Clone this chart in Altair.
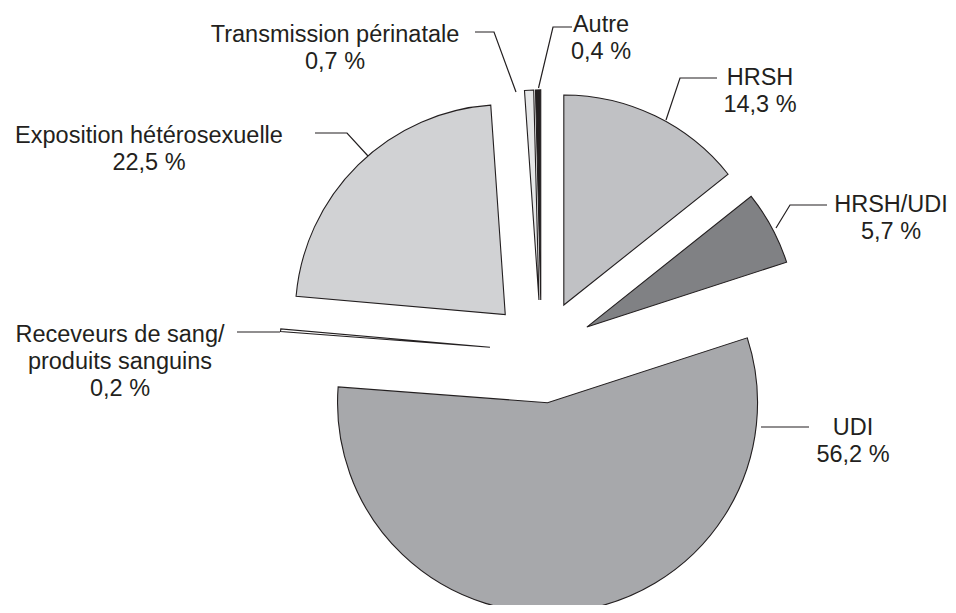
import altair as alt
import pandas as pd

# ---- data ----
categories = [
    "HRSH",
    "HRSH/UDI",
    "UDI",
    "Receveurs de sang/produits sanguins",
    "Exposition hétérosexuelle",
    "Transmission périnatale",
    "Autre",
]
values = [14.3, 5.7, 56.2, 0.2, 22.5, 0.7, 0.4]

# ---- styles ----
colors = ["#c0c1c4", "#808184", "#a7a8ab", "#ffffff", "#d1d2d4", "#e6e7e8", "#231f20"]
INK = "#231f20"

# ---- layout (plot-area pixels) ----
W, H = 940, 597
CX, CY = 533.4, 343.5
EXPLODE = 51.6
R = 210

# label anchor (first line, middle) per category
label_pos = [
    (752, 70), (883, 197), (845, 420), (112, 327), (141, 128), (327, 27), (593, 17),
]
# leader polylines per category
leaders = [
    [(709, 70), (672, 70), (658, 112)],
    [(819, 197), (782, 197), (768, 220)],
    [(801, 419), (753, 419)],
    [(229, 324), (272, 324)],
    [(307, 125), (339, 125), (360, 148)],
    [(467, 24), (486, 24), (508, 84)],
    [(564, 19), (545, 19), (530.5, 80)],
]


def fmt(v):
    return f"{v:.1f}".replace(".", ",") + " %"


df = pd.DataFrame({"cat": categories, "value": values,
                   "order": list(range(len(values))), "color": colors})

lab_df = pd.DataFrame({
    "text": [c.replace("sang/", "sang/\n") + "\n" + fmt(v) for c, v in zip(categories, values)],
    "lx": [p[0] for p in label_pos],
    "ly": [p[1] for p in label_pos],
})

lead_rows = []
for i, pts in enumerate(leaders):
    for j, (x, y) in enumerate(pts):
        lead_rows.append({"id": i, "k": j, "x": x, "y": y})
lead_df = pd.DataFrame(lead_rows)

pie = (
    alt.Chart(df)
    .transform_window(cum="sum(value)", sort=[alt.SortField("order")], frame=[None, 0])
    .transform_joinaggregate(total="sum(value)")
    .transform_calculate(t0="2*PI*(datum.cum - datum.value)/datum.total")
    .transform_calculate(t1="2*PI*datum.cum/datum.total")
    .transform_calculate(mid="(datum.t0 + datum.t1)/2")
    .transform_calculate(ox=f"{CX} + {EXPLODE}*sin(datum.mid)")
    .transform_calculate(oy=f"{CY} - {EXPLODE}*cos(datum.mid)")
    .mark_arc(outerRadius=R, stroke=INK, strokeWidth=1.1)
    .encode(
        theta=alt.Theta("t0:Q", scale=None, stack=None),
        theta2="t1:Q",
        x=alt.X("ox:Q", scale=None, axis=None),
        y=alt.Y("oy:Q", scale=None, axis=None),
        color=alt.Color("color:N", scale=None),
    )
)

lines = (
    alt.Chart(lead_df)
    .mark_line(color=INK, strokeWidth=1.2)
    .encode(
        x=alt.X("x:Q", scale=None, axis=None),
        y=alt.Y("y:Q", scale=None, axis=None),
        detail="id:N",
        order="k:Q",
    )
)

text = (
    alt.Chart(lab_df)
    .mark_text(font="Liberation Sans", fontSize=23.5, lineHeight=26.8, lineBreak="\n",
               align="center", baseline="middle", color=INK)
    .encode(
        x=alt.X("lx:Q", scale=None, axis=None),
        y=alt.Y("ly:Q", scale=None, axis=None),
        text="text:N",
    )
)

chart = (
    alt.layer(pie, lines, text)
    .properties(width=W, height=H, padding=0, autosize="none")
    .configure_view(stroke=None)
)

chart.save("out.html", embed_options={"renderer": "svg", "actions": False})
